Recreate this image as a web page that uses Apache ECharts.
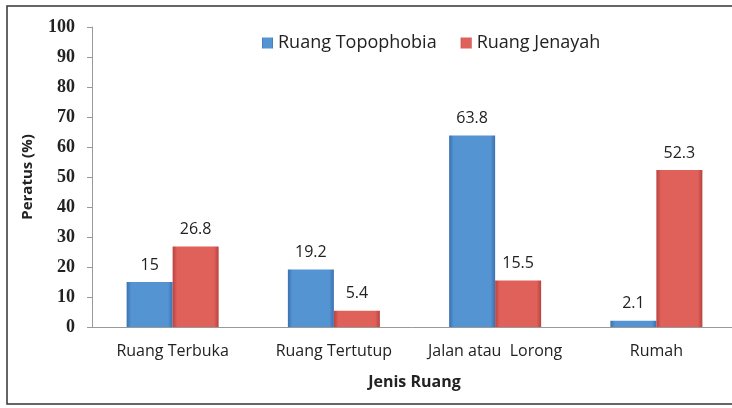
<!DOCTYPE html>
<html>
<head>
<meta charset="utf-8">
<script src="https://cdn.jsdelivr.net/npm/echarts@6/dist/echarts.min.js"></script>
<style>html,body{margin:0;padding:0;background:#fff}#c{width:732px;height:408px}</style>
</head>
<body>
<div id="c"></div>
<script>
var categories = ['Ruang Terbuka', 'Ruang Tertutup', 'Jalan atau  Lorong', 'Rumah'];
var topophobia = [15, 19.2, 63.8, 2.1];
var jenayah = [26.8, 5.4, 15.5, 52.3];
var seriesNames = ['Ruang Topophobia', 'Ruang Jenayah'];

function grad(edge, mid) {
  return new echarts.graphic.LinearGradient(0, 0, 1, 0, [
    {offset: 0, color: edge}, {offset: 0.1, color: mid}, {offset: 0.9, color: mid}, {offset: 1, color: edge}
  ]);
}
var chart = echarts.init(document.getElementById('c'));
var labelStyle = {show: true, position: 'top', distance: 9, fontFamily: 'Open Sans', fontSize: 16, color: '#222'};
chart.setOption({
  animation: false,
  grid: {left: 92, top: 27, height: 300, width: 645, outerBoundsMode: 'none', containLabel: false},
  legend: {
    top: 29, left: 257, itemWidth: 11, itemHeight: 11, itemGap: 24, icon: 'rect',
    textStyle: {fontFamily: 'Open Sans', fontSize: 18, color: '#222', padding: [0, 0, 0, 0]},
    data: seriesNames
  },
  xAxis: {
    type: 'category', data: categories,
    axisLine: {lineStyle: {color: '#999'}},
    axisTick: {show: false},
    axisLabel: {interval: 0, hideOverlap: false, margin: 16, fontFamily: 'Open Sans', fontSize: 16, color: '#222'},
    name: 'Jenis Ruang', nameLocation: 'middle', nameGap: 47,
    nameTextStyle: {fontFamily: 'Open Sans', fontWeight: 'bold', fontSize: 16, color: '#222'}
  },
  yAxis: {
    type: 'value', min: 0, max: 100, interval: 10,
    splitLine: {show: false},
    axisLine: {show: true, lineStyle: {color: '#999'}},
    axisTick: {show: true, length: 5, lineStyle: {color: '#999'}},
    axisLabel: {margin: 17, fontFamily: 'Liberation Serif', fontWeight: 'bold', fontSize: 18, color: '#222'},
    name: 'Peratus (%)', nameLocation: 'middle', nameGap: 57, nameRotate: 90,
    nameTextStyle: {fontFamily: 'Open Sans', fontWeight: 'bold', fontSize: 15, color: '#222'}
  },
  series: [
    {name: seriesNames[0], type: 'bar', data: topophobia, barWidth: 46, barGap: '0%',
     itemStyle: {color: grad('#3A70B0', '#5494D2')}, label: labelStyle},
    {name: seriesNames[1], type: 'bar', data: jenayah, barWidth: 46, barGap: '0%',
     itemStyle: {color: grad('#B8433F', '#E0605A')}, label: labelStyle}
  ],
  graphic: [{type: 'rect', shape: {x: 7, y: 6, width: 740, height: 398}, style: {fill: 'none', stroke: '#333', lineWidth: 1.5}, z: 100}]
});
</script>
</body>
</html>
